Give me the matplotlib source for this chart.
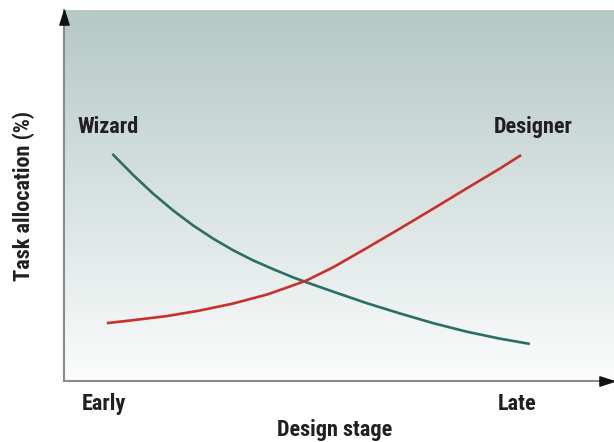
import numpy as np
import matplotlib
matplotlib.use("Agg")
import matplotlib.pyplot as plt

# values (design stage 0-100, allocation 0-100)
wizard_x = [8.8, 12.6, 16.2, 19.9, 23.5, 27.2, 30.8, 34.4, 38.1, 41.7, 44.1,
            48.9, 55.0, 61.1, 67.1, 73.2, 79.3, 84.7]
wizard_y = [61.2, 55.5, 50.5, 45.9, 41.9, 38.3, 35.2, 32.5, 30.1, 27.9, 26.6,
            24.1, 21.0, 18.2, 15.6, 13.3, 11.4, 10.0]
designer_x = [7.8, 12.6, 18.7, 24.7, 30.8, 36.9, 41.7, 44.1, 49.0, 55.0, 61.1,
              67.2, 73.2, 79.3, 83.1]
designer_y = [15.6, 16.4, 17.5, 19.0, 20.9, 23.3, 25.8, 27.1, 30.7, 35.8, 41.1,
              46.5, 51.9, 57.3, 60.9]
stage_labels = ["Early", "Late"]

plt.rcParams['font.family'] = ['Roboto Condensed', 'DejaVu Sans']
txt = "#231f20"

fig = plt.figure(figsize=(6.14, 4.42), dpi=100)
ax = fig.add_axes([64 / 614, 61 / 442, 550 / 614, 371 / 442])
ax.set_xlim(0, 100)
ax.set_ylim(0, 100)

# gradient background
top = np.array([180, 200, 198]) / 255
bot = np.array([251, 252, 252]) / 255
t = np.linspace(0, 1, 256)[:, None]
grad = (top * (1 - t) + bot * t)[:, None, :]
ax.imshow(grad, extent=[0, 100, 0, 100], aspect="auto", origin="upper", zorder=0)

ax.plot(wizard_x, wizard_y, color="#2b6e65", lw=1.9, solid_capstyle="butt",
        solid_joinstyle="round", zorder=3)
ax.plot(designer_x, designer_y, color="#c8302a", lw=1.9, solid_capstyle="butt",
        solid_joinstyle="round", zorder=3)

for s in ["top", "right"]:
    ax.spines[s].set_visible(False)
for s in ["left", "bottom"]:
    ax.spines[s].set_color("#8a8a8a")
    ax.spines[s].set_linewidth(1.5)
ax.set_xticks([])
ax.set_yticks([])

# arrow heads
ax.plot(0, 100, marker=[(0, 0), (-0.32, -1), (0.32, -1), (0, 0)], ms=21,
        color="#111111", clip_on=False, zorder=5)
ax.plot(100, 0, marker=[(0, 0), (-1, 0.32), (-1, -0.32), (0, 0)], ms=21,
        color="#111111", clip_on=False, zorder=5)

ax.text(2.4, 68.4, "Wizard", fontsize=16, fontweight="bold", color=txt, va="center", ha="left")
ax.text(92.4, 68.4, "Designer", fontsize=16, fontweight="bold", color=txt, va="center", ha="right")

fig.text(104 / 614, 1 - 404 / 442, stage_labels[0], fontsize=16, fontweight="bold", color=txt,
         ha="center", va="center")
fig.text(517 / 614, 1 - 404 / 442, stage_labels[1], fontsize=16, fontweight="bold", color=txt,
         ha="center", va="center")
fig.text(335 / 614, 1 - 430 / 442, "Design stage", fontsize=16, fontweight="bold", color=txt,
         ha="center", va="center")
fig.text(24 / 614, 1 - 196 / 442, "Task allocation (%)", fontsize=16, fontweight="bold", color=txt,
         ha="center", va="center", rotation=90)

fig.savefig("out.png", dpi=100)
